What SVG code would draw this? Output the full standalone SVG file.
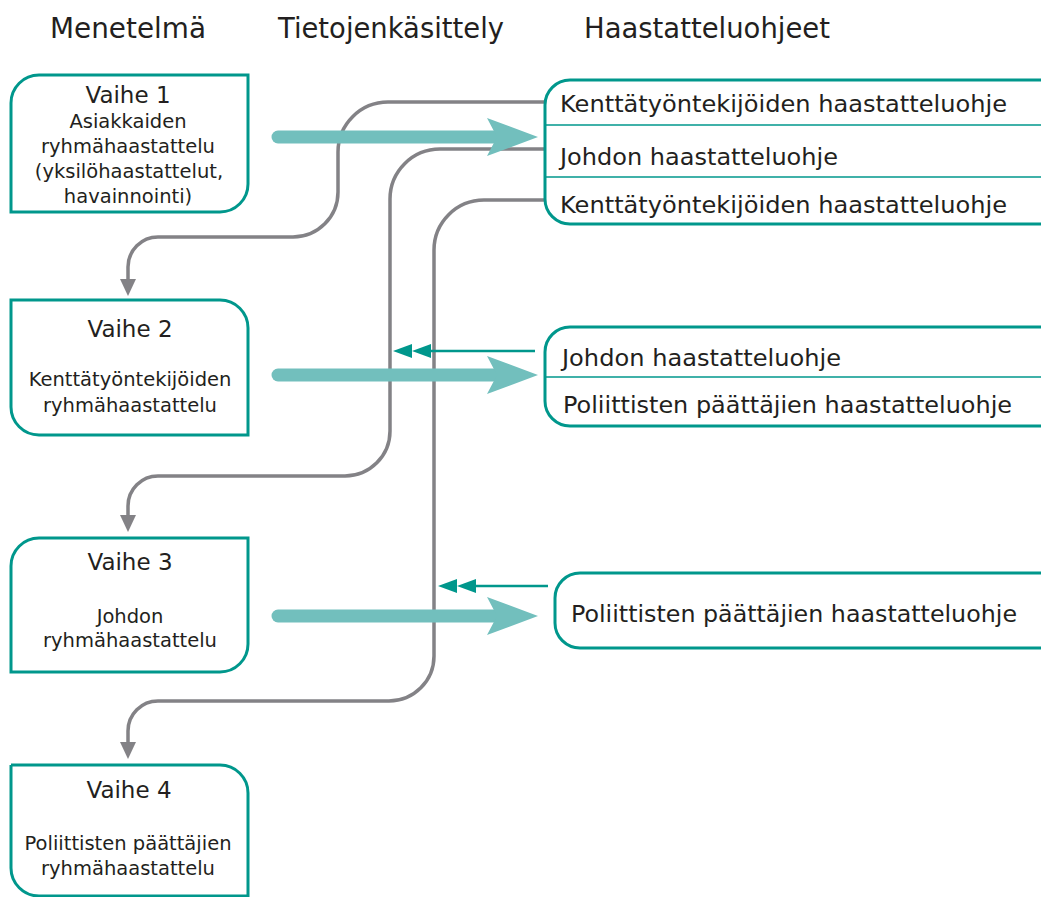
<svg xmlns="http://www.w3.org/2000/svg" width="1041" height="897" viewBox="0 0 1041 897">
<defs>
<style>
text{font-family:"DejaVu Sans","Noto Sans","Liberation Sans",sans-serif;fill:#231f20}
.hd{font-size:27.5px}
.v{font-size:23px;text-anchor:middle}
.s{font-size:19.5px;text-anchor:middle}
.r{font-size:23px}
.box{fill:#fff;stroke:#00978c;stroke-width:3}
.div{stroke:#00978c;stroke-width:1.5;fill:none}
.gray{fill:none;stroke:#838286;stroke-width:3.5}
.ghead{fill:#838286}
.big{fill:none;stroke:#72bfbd;stroke-width:13;stroke-linecap:round}
.bighead{fill:#72bfbd}
.sm{fill:none;stroke:#00978c;stroke-width:2.5}
.smhead{fill:#00978c}
</style>
</defs>

<text class="hd" x="50" y="38" textLength="156" lengthAdjust="spacingAndGlyphs">Menetelmä</text>
<text class="hd" x="278" y="38" textLength="226" lengthAdjust="spacingAndGlyphs">Tietojenkäsittely</text>
<text class="hd" x="584" y="38" textLength="246" lengthAdjust="spacingAndGlyphs">Haastatteluohjeet</text>

<g id="connectors">
<path class="gray" d="M545,102 H388 A50,50 0 0 0 338,152 V192 A45,45 0 0 1 293,237 H158 A30,30 0 0 0 128,267 V280"/>
<path class="gray" d="M545,149 H440 A50,50 0 0 0 390,199 V431 A45,45 0 0 1 345,476 H158 A30,30 0 0 0 128,506 V517"/>
<path class="gray" d="M545,200 H484 A50,50 0 0 0 434,250 V656 A45,45 0 0 1 389,701 H158 A30,30 0 0 0 128,731 V743"/>
<polygon class="ghead" points="120,279 136,279 128,296"/>
<polygon class="ghead" points="120,515 136,515 128,532"/>
<polygon class="ghead" points="120,742 136,742 128,759"/>

<line class="big" x1="278" y1="137" x2="495" y2="137"/>
<polygon class="bighead" points="487,118 538,137 487,156 497,137"/>
<line class="big" x1="278" y1="375" x2="495" y2="375"/>
<polygon class="bighead" points="487,356 538,375 487,394 497,375"/>
<line class="big" x1="278" y1="616" x2="495" y2="616"/>
<polygon class="bighead" points="487,597 538,616 487,635 497,616"/>

<line class="sm" x1="535" y1="351" x2="420" y2="351"/>
<polygon class="smhead" points="393,351 412,344 412,358"/>
<polygon class="smhead" points="412,351 431,344 431,358"/>
<line class="sm" x1="548" y1="586" x2="465" y2="586"/>
<polygon class="smhead" points="438,586 457,579 457,593"/>
<polygon class="smhead" points="457,586 476,579 476,593"/>
</g>

<g id="vaihe1">
<path class="box" d="M11,212 V103 A28,28 0 0 1 39,75 H248 V184 A28,28 0 0 1 220,212 Z"/>
<text class="v" x="128" y="103">Vaihe 1</text>
<text class="s" x="128" y="128">Asiakkaiden</text>
<text class="s" x="128" y="153">ryhmähaastattelu</text>
<text class="s" x="129" y="178">(yksilöhaastattelut,</text>
<text class="s" x="128" y="203">havainnointi)</text>
</g>

<g id="vaihe2">
<path class="box" d="M11,300 H220 A28,28 0 0 1 248,328 V435 H39 A28,28 0 0 1 11,407 Z"/>
<text class="v" x="130" y="337">Vaihe 2</text>
<text class="s" x="130" y="386">Kenttätyöntekijöiden</text>
<text class="s" x="130" y="412">ryhmähaastattelu</text>
</g>

<g id="vaihe3">
<path class="box" d="M11,672 V566 A28,28 0 0 1 39,538 H248 V644 A28,28 0 0 1 220,672 Z"/>
<text class="v" x="130" y="570">Vaihe 3</text>
<text class="s" x="130" y="623">Johdon</text>
<text class="s" x="130" y="647">ryhmähaastattelu</text>
</g>

<g id="vaihe4">
<path class="box" d="M11,765 H220 A28,28 0 0 1 248,793 V900 M11,765 V868 A28,28 0 0 0 39,896 H248"/>
<text class="v" x="129" y="798">Vaihe 4</text>
<text class="s" x="128" y="850">Poliittisten päättäjien</text>
<text class="s" x="128" y="875">ryhmähaastattelu</text>
</g>

<g id="ohjeetA">
<path class="box" d="M1045,80 H570 A25,25 0 0 0 545,105 V199 A25,25 0 0 0 570,224 H1045"/>
<line class="div" x1="545" y1="125" x2="1041" y2="125"/>
<line class="div" x1="545" y1="177" x2="1041" y2="177"/>
<text class="r" x="560" y="112" textLength="447" lengthAdjust="spacingAndGlyphs">Kenttätyöntekijöiden haastatteluohje</text>
<text class="r" x="560" y="165" textLength="278" lengthAdjust="spacingAndGlyphs">Johdon haastatteluohje</text>
<text class="r" x="560" y="213" textLength="447" lengthAdjust="spacingAndGlyphs">Kenttätyöntekijöiden haastatteluohje</text>
</g>

<g id="ohjeetB">
<path class="box" d="M1045,327 H570 A25,25 0 0 0 545,352 V401 A25,25 0 0 0 570,426 H1045"/>
<line class="div" x1="545" y1="377" x2="1041" y2="377"/>
<text class="r" x="562" y="366" textLength="279" lengthAdjust="spacingAndGlyphs">Johdon haastatteluohje</text>
<text class="r" x="563" y="413" textLength="449" lengthAdjust="spacingAndGlyphs">Poliittisten päättäjien haastatteluohje</text>
</g>

<g id="ohjeetC">
<path class="box" d="M1045,573 H580 A25,25 0 0 0 555,598 V623 A25,25 0 0 0 580,648 H1045"/>
<text class="r" x="571" y="622" textLength="446" lengthAdjust="spacingAndGlyphs">Poliittisten päättäjien haastatteluohje</text>
</g>
</svg>
